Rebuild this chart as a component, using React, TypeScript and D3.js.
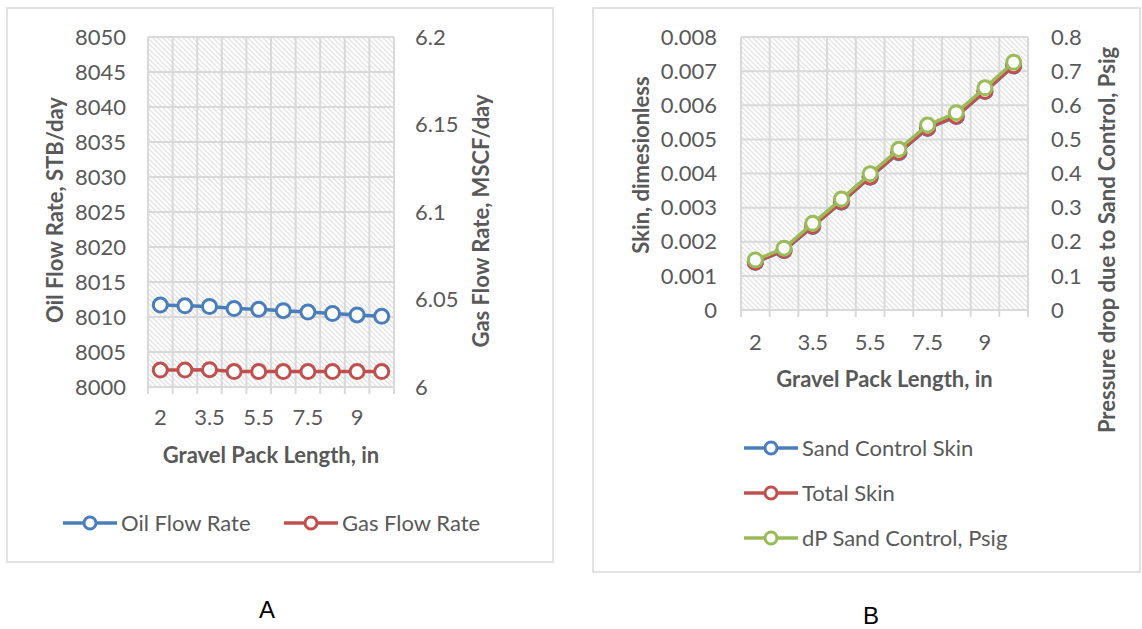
import { useEffect, useRef } from "react";
import * as d3 from "d3";

// gravel pack length categories (only every other one is labelled)
const lengths = ["2", "2.5", "3.5", "4.5", "5.5", "6.5", "7.5", "8.5", "9", "10"];

// chart A
const oilRate = [8011.7, 8011.6, 8011.5, 8011.2, 8011.1, 8010.9, 8010.7, 8010.5, 8010.3, 8010.1];
const gasRate = [6.0097, 6.0097, 6.0099, 6.0088, 6.0088, 6.0088, 6.0088, 6.0088, 6.0088, 6.0088];
const oilTicks = [8000, 8005, 8010, 8015, 8020, 8025, 8030, 8035, 8040, 8045, 8050];
const gasTicks = [6, 6.05, 6.1, 6.15, 6.2];

// chart B
const sandControlSkin = [0.0014, 0.00174, 0.00245, 0.00316, 0.00389, 0.00461, 0.00532, 0.00567, 0.0064, 0.00715];
const totalSkin = [0.0014, 0.00175, 0.00246, 0.00317, 0.0039, 0.00462, 0.00533, 0.00568, 0.00641, 0.00716];
const dpSandControl = [0.1465, 0.181, 0.254, 0.325, 0.399, 0.471, 0.542, 0.578, 0.651, 0.726];
const skinTicks = [0, 0.001, 0.002, 0.003, 0.004, 0.005, 0.006, 0.007, 0.008];
const dpTicks = [0, 0.1, 0.2, 0.3, 0.4, 0.5, 0.6, 0.7, 0.8];

const BLUE = "#4a7ebb";
const RED = "#c0504d";
const GREEN = "#9bbb59";
const GRID = "#d9d9d9";
const TEXT = "#595959";
const FONT = "Lato, 'Open Sans', sans-serif";

type Series = { name: string; values: number[]; color: string; axis: "left" | "right" };

type Panel = {
  box: { x: number; y: number; w: number; h: number };
  plot: { left: number; right: number; top: number; bottom: number };
  leftTicks: number[];
  rightTicks: number[];
  leftLabelX: number;
  rightLabelX: number;
  xLabelY: number;
  xTitleY: number;
  leftTitle: { text: string; x: number; y: number };
  rightTitle: { text: string; x: number; y: number };
  series: Series[];
  legend: { x: number; y: number }[];
};

function drawPanel(svg: d3.Selection<SVGSVGElement, unknown, null, undefined>, p: Panel) {
  const g = svg.append("g");

  g.append("rect")
    .attr("x", p.box.x)
    .attr("y", p.box.y)
    .attr("width", p.box.w)
    .attr("height", p.box.h)
    .attr("fill", "white")
    .attr("stroke", GRID)
    .attr("stroke-width", 1.5);

  const x = d3.scaleBand().domain(lengths).range([p.plot.left, p.plot.right]).padding(0);
  const yLeft = d3
    .scaleLinear()
    .domain([p.leftTicks[0], p.leftTicks[p.leftTicks.length - 1]])
    .range([p.plot.bottom, p.plot.top]);
  const yRight = d3
    .scaleLinear()
    .domain([p.rightTicks[0], p.rightTicks[p.rightTicks.length - 1]])
    .range([p.plot.bottom, p.plot.top]);

  g.append("rect")
    .attr("x", p.plot.left)
    .attr("y", p.plot.top)
    .attr("width", p.plot.right - p.plot.left)
    .attr("height", p.plot.bottom - p.plot.top)
    .attr("fill", "url(#hatch)");

  // horizontal gridlines
  g.append("g")
    .selectAll("line")
    .data(p.leftTicks)
    .join("line")
    .attr("x1", p.plot.left)
    .attr("x2", p.plot.right)
    .attr("y1", (d) => yLeft(d))
    .attr("y2", (d) => yLeft(d))
    .attr("stroke", GRID)
    .attr("stroke-width", 2);

  // vertical gridlines at category boundaries, extending into tick marks
  const bounds = [...lengths.map((c) => x(c) as number), p.plot.right];
  g.append("g")
    .selectAll("line")
    .data(bounds)
    .join("line")
    .attr("x1", (d) => d)
    .attr("x2", (d) => d)
    .attr("y1", p.plot.top)
    .attr("y2", p.plot.bottom + 7)
    .attr("stroke", GRID)
    .attr("stroke-width", 2);

  // axis labels
  g.append("g")
    .selectAll("text")
    .data(p.leftTicks)
    .join("text")
    .attr("x", p.leftLabelX)
    .attr("y", (d) => yLeft(d))
    .attr("dy", "0.35em")
    .attr("text-anchor", "end")
    .attr("fill", TEXT)
    .style("font-size", "22px")
    .style("font-family", FONT)
    .text((d) => String(d));

  g.append("g")
    .selectAll("text")
    .data(p.rightTicks)
    .join("text")
    .attr("x", p.rightLabelX)
    .attr("y", (d) => yRight(d))
    .attr("dy", "0.35em")
    .attr("fill", TEXT)
    .style("font-size", "22px")
    .style("font-family", FONT)
    .text((d) => String(d));

  const half = x.bandwidth() / 2;
  g.append("g")
    .selectAll("text")
    .data(lengths.filter((_, i) => i % 2 === 0))
    .join("text")
    .attr("x", (d) => (x(d) as number) + half)
    .attr("y", p.xLabelY)
    .attr("dy", "0.35em")
    .attr("text-anchor", "middle")
    .attr("fill", TEXT)
    .style("font-size", "22px")
    .style("font-family", FONT)
    .text((d) => d);

  g.append("text")
    .attr("x", (p.plot.left + p.plot.right) / 2)
    .attr("y", p.xTitleY)
    .attr("dy", "0.35em")
    .attr("text-anchor", "middle")
    .attr("fill", TEXT)
    .style("font-size", "22px")
    .style("font-weight", "700")
    .style("font-family", FONT)
    .text("Gravel Pack Length, in");

  [p.leftTitle, p.rightTitle].forEach((t) => {
    g.append("text")
      .attr("transform", `translate(${t.x},${t.y}) rotate(-90)`)
      .attr("dy", "0.35em")
      .attr("text-anchor", "middle")
      .attr("fill", TEXT)
      .style("font-size", "22px")
      .style("font-weight", "700")
      .style("font-family", FONT)
      .text(t.text);
  });

  // series
  p.series.forEach((s) => {
    const y = s.axis === "left" ? yLeft : yRight;
    const line = d3
      .line<number>()
      .x((_, i) => (x(lengths[i]) as number) + half)
      .y((d) => y(d));

    g.append("path")
      .datum(s.values)
      .attr("fill", "none")
      .attr("stroke", s.color)
      .attr("stroke-width", 3.5)
      .attr("stroke-linejoin", "round")
      .attr("d", line);

    g.append("g")
      .selectAll("circle")
      .data(s.values)
      .join("circle")
      .attr("cx", (_, i) => (x(lengths[i]) as number) + half)
      .attr("cy", (d) => y(d))
      .attr("r", 7)
      .attr("fill", "white")
      .attr("stroke", s.color)
      .attr("stroke-width", 3);
  });

  // legend
  p.series.forEach((s, i) => {
    const pos = p.legend[i];
    const item = g.append("g").attr("transform", `translate(${pos.x},${pos.y})`);
    item.append("line")
      .attr("x1", 0)
      .attr("x2", 54)
      .attr("stroke", s.color)
      .attr("stroke-width", 3.5);
    item.append("circle")
      .attr("cx", 27)
      .attr("r", 6)
      .attr("fill", "white")
      .attr("stroke", s.color)
      .attr("stroke-width", 3);
    item.append("text")
      .attr("x", 58)
      .attr("dy", "0.35em")
      .attr("fill", TEXT)
      .style("font-size", "22px")
      .style("font-family", FONT)
      .text(s.name);
  });
}

export default function App() {
  const ref = useRef<SVGSVGElement>(null);

  useEffect(() => {
    if (!ref.current) {
      return;
    }
    const svg = d3.select(ref.current);
    svg.selectAll("*").remove();

    const pattern = svg
      .append("defs")
      .append("pattern")
      .attr("id", "hatch")
      .attr("patternUnits", "userSpaceOnUse")
      .attr("width", 5)
      .attr("height", 5);
    pattern.append("rect").attr("width", 5).attr("height", 5).attr("fill", "white");
    pattern
      .append("path")
      .attr("d", "M0,0 L5,5 M-1,4 L1,6 M4,-1 L6,1")
      .attr("stroke", "#e4e4e4")
      .attr("stroke-width", 1.3);

    drawPanel(svg, {
      box: { x: 7, y: 8, w: 546, h: 554 },
      plot: { left: 148, right: 394, top: 37, bottom: 387 },
      leftTicks: oilTicks,
      rightTicks: gasTicks,
      leftLabelX: 126,
      rightLabelX: 415,
      xLabelY: 417,
      xTitleY: 455,
      leftTitle: { text: "Oil Flow Rate, STB/day", x: 55, y: 210 },
      rightTitle: { text: "Gas Flow Rate, MSCF/day", x: 481, y: 221 },
      series: [
        { name: "Oil Flow Rate", values: oilRate, color: BLUE, axis: "left" },
        { name: "Gas Flow Rate", values: gasRate, color: RED, axis: "right" }
      ],
      legend: [
        { x: 63, y: 523 },
        { x: 284, y: 523 }
      ]
    });

    drawPanel(svg, {
      box: { x: 593, y: 8, w: 547, h: 564 },
      plot: { left: 741, right: 1028, top: 37, bottom: 310 },
      leftTicks: skinTicks,
      rightTicks: dpTicks,
      leftLabelX: 717,
      rightLabelX: 1051,
      xLabelY: 342,
      xTitleY: 379,
      leftTitle: { text: "Skin, dimesionless", x: 641, y: 165 },
      rightTitle: { text: "Pressure drop due to Sand Control, Psig", x: 1107, y: 240 },
      series: [
        { name: "Sand Control Skin", values: sandControlSkin, color: BLUE, axis: "left" },
        { name: "Total Skin", values: totalSkin, color: RED, axis: "left" },
        { name: "dP Sand Control, Psig", values: dpSandControl, color: GREEN, axis: "right" }
      ],
      legend: [
        { x: 744, y: 448 },
        { x: 744, y: 493 },
        { x: 744, y: 538 }
      ]
    });

    svg.append("text")
      .attr("x", 267)
      .attr("y", 610)
      .attr("dy", "0.35em")
      .attr("text-anchor", "middle")
      .style("font-size", "24px")
      .style("font-family", "'Liberation Sans', Arial, sans-serif")
      .text("A");

    svg.append("text")
      .attr("x", 871)
      .attr("y", 616)
      .attr("dy", "0.35em")
      .attr("text-anchor", "middle")
      .style("font-size", "24px")
      .style("font-family", "'Liberation Sans', Arial, sans-serif")
      .text("B");
  }, []);

  return (
    <svg
      ref={ref}
      width={1142}
      height={629}
      style={{ position: "absolute", left: 0, top: 0, background: "white" }}
    />
  );
}
